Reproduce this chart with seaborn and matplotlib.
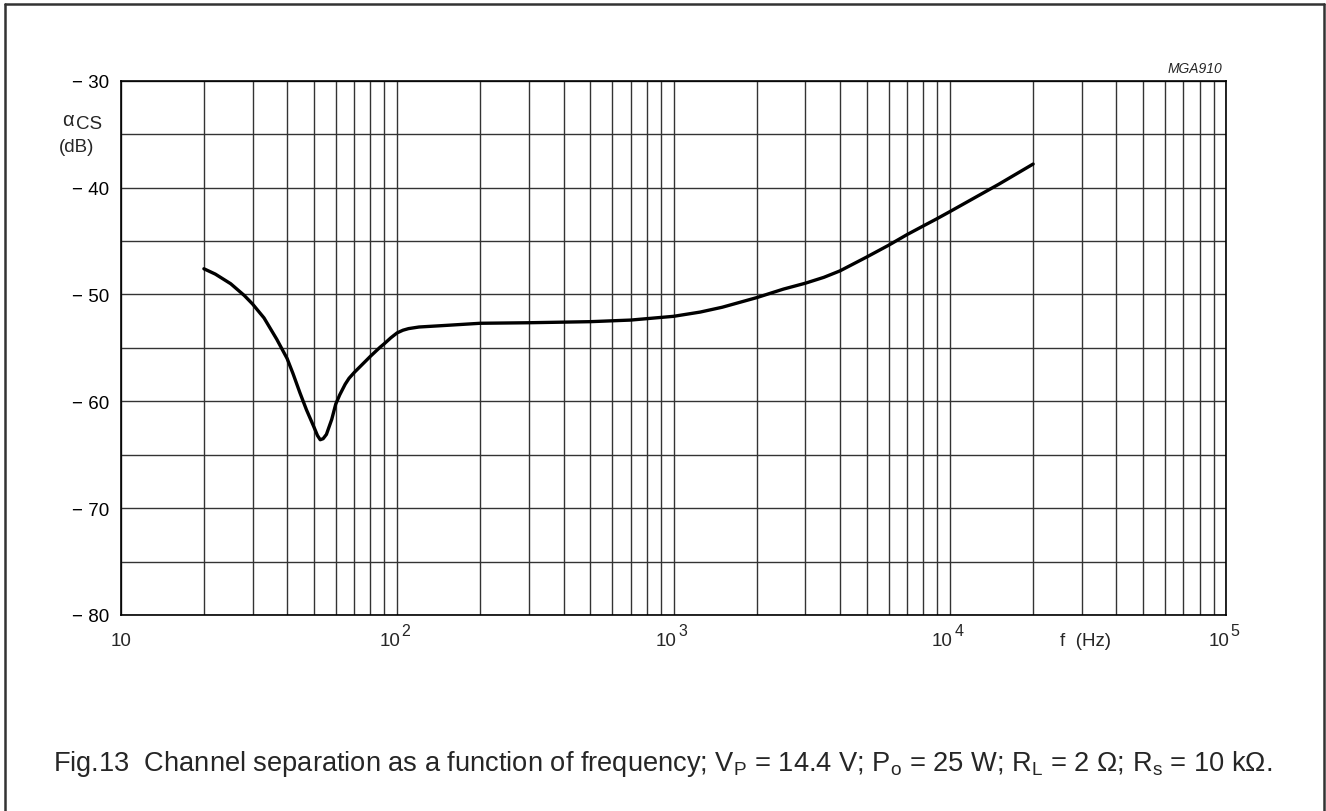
import numpy as np
import pandas as pd
import matplotlib
matplotlib.use("Agg")
import matplotlib.pyplot as plt
from matplotlib.lines import Line2D
from matplotlib.ticker import FixedLocator, NullFormatter
from matplotlib.transforms import offset_copy
import seaborn as sns

# channel separation curve
freq_hz = [20, 22, 25, 28, 30, 33, 36.7, 40, 42, 44.5, 47, 50, 51.5, 52.7,
           54, 55.5, 58, 60, 62, 64.9, 67, 70, 80, 86.7, 90, 95, 100, 105,
           110, 120, 150, 200, 300, 500, 700, 1000, 1250, 1500, 2000, 2500,
           3000, 3500, 4000, 5000, 6000, 7000, 8000, 9000, 10000, 15000,
           20000]
acs_db = [-47.6, -48.1, -49.0, -50.1, -50.9, -52.2, -54.2, -56.0, -57.4,
          -59.2, -60.8, -62.4, -63.2, -63.6, -63.5, -63.1, -61.7, -60.25,
          -59.4, -58.4, -57.85, -57.3, -55.8, -54.95, -54.6, -54.05, -53.6,
          -53.35, -53.2, -53.05, -52.9, -52.7, -52.65, -52.55, -52.4,
          -52.05, -51.65, -51.2, -50.3, -49.5, -48.95, -48.4, -47.8, -46.5,
          -45.4, -44.4, -43.6, -42.9, -42.25, -39.7, -37.8]

y_ticks = [-30, -40, -50, -60, -70, -80]
y_grid = [-35, -45, -55, -65, -75]
x_major = [10, 100, 1000, 10000, 100000]
x_exp = [None, "2", "3", "4", "5"]

caption = ("Fig.13  Channel separation as a function of frequency; "
           "V$_\\mathregular{P}$ = 14.4 V; P$_\\mathregular{o}$ = 25 W; "
           "R$_\\mathregular{L}$ = 2 \u03a9; R$_\\mathregular{s}$ = 10 k\u03a9.")

sns.set_style("white")
plt.rcParams['font.family'] = ['Liberation Sans', 'DejaVu Sans']
plt.rcParams['mathtext.fontset'] = 'custom'
plt.rcParams['mathtext.rm'] = 'Liberation Sans'
plt.rcParams['mathtext.it'] = 'Liberation Sans:italic'

W, H = 1326, 812
fig = plt.figure(figsize=(W / 100, H / 100), dpi=100)
ax = fig.add_axes([120.7 / W, 1 - 616 / H, (1226.3 - 120.7) / W,
                   (616 - 81.7) / H])

df = pd.DataFrame({"f": freq_hz, "acs": acs_db})
sns.lineplot(data=df, x="f", y="acs", ax=ax, color="black", lw=2.4,
             zorder=5)

ax.set_xscale("log")
ax.set_xlim(10, 1e5)
ax.set_ylim(-80, -30)

# grid: every log sub-decade and every 5 dB
ax.set_xticks(x_major, [""] * len(x_major))
minors = [m * 10 ** e for e in range(1, 5) for m in range(2, 10)]
ax.xaxis.set_minor_locator(FixedLocator(minors))
ax.xaxis.set_minor_formatter(NullFormatter())
ax.set_yticks(y_ticks, ["\u2212 %d" % abs(v) for v in y_ticks])
ax.yaxis.set_minor_locator(FixedLocator(y_grid))
ax.grid(True, which="both", color="#333333", lw=1.0)
ax.tick_params(axis="both", which="both", length=0, labelsize=13.5,
               colors="black")
ax.tick_params(axis="y", pad=8)
for s in ax.spines.values():
    s.set_color("black")
    s.set_linewidth(1.2)
ax.set_xlabel("")
ax.set_ylabel("")

# x labels: 10, 10^2 ... drawn as base + raised exponent
xt = ax.get_xaxis_transform()
for xv, ex in zip(x_major, x_exp):
    if ex is None:
        ax.text(xv, 0, "10", fontsize=13.5, ha="center", va="center",
                transform=offset_copy(xt, fig, x=0, y=-25.7, units="dots"))
    else:
        ax.text(xv, 0, "10", fontsize=13.5, ha="right", va="center",
                transform=offset_copy(xt, fig, x=3, y=-25.7, units="dots"))
        ax.text(xv, 0, ex, fontsize=11.5, ha="left", va="center",
                transform=offset_copy(xt, fig, x=4.5, y=-16, units="dots"))

ax.text(2.5e4, 0, "f  (Hz)", fontsize=13.5, ha="left", va="center",
        transform=offset_copy(xt, fig, x=0, y=-25.7, units="dots"))

fig.text(62 / W, 1 - 120 / H, "\u03b1", fontsize=14.5, ha="left",
         va="center")
fig.text(76 / W, 1 - 125 / H, "CS", fontsize=13.5, ha="left", va="center")
fig.text(77 / W, 1 - 147 / H, "(dB)", fontsize=13.5, ha="center",
         va="center")
fig.text(1222 / W, 1 - 69 / H, "MGA910", fontsize=10, style="italic",
         ha="right", va="center")

fig.text(663 / W, 1 - 764 / H, caption, fontsize=19.6, ha="center",
         va="center")

# outer frame
fig.add_artist(Line2D([5 / W, 5 / W], [0, 1 - 5 / H], color="#333333",
                      lw=1.8))
fig.add_artist(Line2D([5 / W, 1324 / W], [1 - 5 / H, 1 - 5 / H],
                      color="#333333", lw=1.8))
fig.add_artist(Line2D([1324 / W, 1324 / W], [0, 1 - 5 / H],
                      color="#333333", lw=1.8))

fig.savefig("out.png", dpi=100)
